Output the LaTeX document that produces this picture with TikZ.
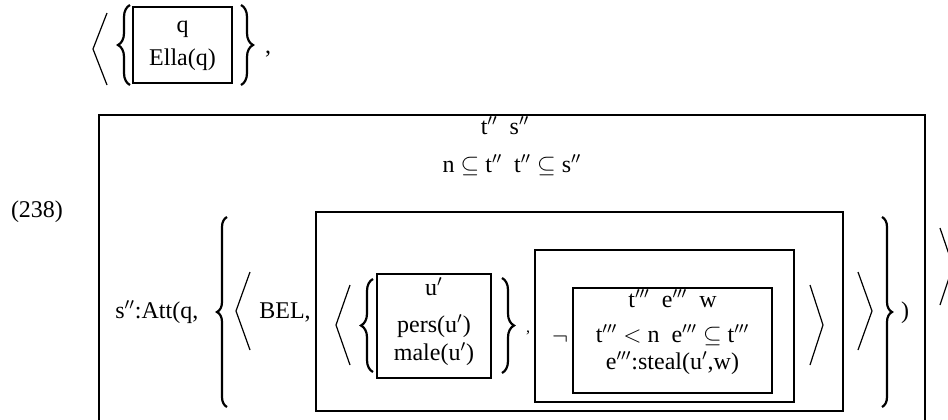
\documentclass[tikz,border=0pt]{standalone}
\usepackage{fontspec}
\setmainfont{Liberation Serif}
\usetikzlibrary{fit,decorations.pathreplacing}
\tikzset{
    drsbox/.style={draw, line width=1.1pt, inner sep=0pt},
    outerbox/.style={draw, line width=1.4pt, inner sep=0pt},
    txt/.style={anchor=base, inner sep=0pt, font=\fontsize{12}{14}\selectfont},
    anglebr/.style={line width=0.6pt},
    cbrace/.style={decorate, decoration={brace, amplitude=#1}, line width=1.1pt}
}

\begin{document}
\begin{tikzpicture}[x=0.5pt, y=-0.5pt]
\useasboundingbox (0,0) rectangle (948,419);
% top line: < { [q | Ella(q)] } ,
\draw[anglebr] (107,13) -- (93,49) -- (107,85);
\draw[cbrace=6pt] (130,85) -- (130,5);
\node[drsbox, fit={(133,7) (232,83)}] (ellabox) {};
\node[txt] (ellaref) at (182.5,32) {q};
\node[txt] (ellacond) at (182.5,65) {Ella(q)};
\draw[cbrace=6pt] (241,5) -- (241,85);
\node[txt] (topcomma) at (268,53) {,};

% example number
\node[txt] (exnum) at (37,217) {(238)};

% outer box
\node[outerbox, fit={(99,115) (925,450)}] (mainbox) {};
\node[txt] (mainrefs) at (505,134) {t$''$\ \ s$''$};
\node[txt] (maincond) at (512,172) {n $\subseteq$ t$''$\ \ t$''$ $\subseteq$ s$''$};
\node[txt, anchor=base west] (att) at (115,318) {s$''$:Att(q,};
\draw[cbrace=5pt] (227,407) -- (227,217);
\draw[anglebr] (250,272) -- (236,311) -- (250,350);
\node[txt, anchor=base west] (bel) at (259,318) {BEL,};

% belief content
\node[drsbox, fit={(316,212) (843,411)}] (belbox) {};
\draw[anglebr] (350,285) -- (336,325) -- (350,365);
\draw[cbrace=6pt] (373,372) -- (373,279);
\node[drsbox, fit={(377,274) (491,378)}] (ubox) {};
\node[txt] (uref) at (434,295) {u$'$};
\node[txt] (upers) at (434,332) {pers(u$'$)};
\node[txt] (umale) at (434,360) {male(u$'$)};
\draw[cbrace=6pt] (502,278) -- (502,373);
\node[txt, font=\fontsize{8}{9}\selectfont] (midcomma) at (528,332) {,};

% negated box
\node[drsbox, fit={(535,250) (794,402)}] (negbox) {};
\node[txt] (negsign) at (560,344) {$\neg$};
\node[drsbox, fit={(573,288) (772,393)}] (stealbox) {};
\node[txt] (stealrefs) at (672.5,307) {t$'''$\ \ e$'''$\ \ w};
\node[txt] (stealtime) at (672.5,342) {t$'''$ $<$ n\ \ e$'''$ $\subseteq$ t$'''$};
\node[txt] (stealcond) at (672.5,369) {e$'''$:steal(u$'$,w)};
\draw[anglebr] (810,285) -- (823,325) -- (810,365);

% closing brackets
\draw[anglebr] (858,272) -- (872,311) -- (858,350);
\draw[cbrace=5pt] (882,217) -- (882,407);
\node[txt] (attclose) at (905,318) {)};
\draw[anglebr] (940,228) -- (953,266) -- (940,305);
\end{tikzpicture}
\end{document}
